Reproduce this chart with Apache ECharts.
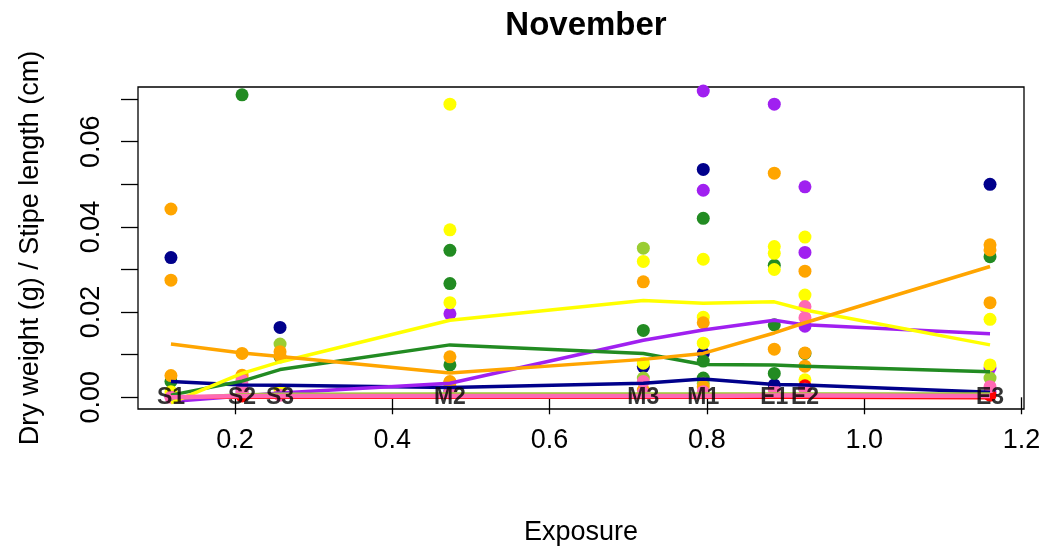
<!DOCTYPE html>
<html>
<head>
<meta charset="utf-8">
<script src="https://cdn.jsdelivr.net/npm/echarts@6/dist/echarts.min.js"></script>
<style>
html,body{margin:0;padding:0;background:#fff;}
#chart{width:1047px;height:552px;}
</style>
</head>
<body>
<div id="chart"></div>
<script>
// ---- data ----
var sites = ['S1','S2','S3','M2','M3','M1','E1','E2','E3'];
var siteX = [0.1186, 0.209, 0.2573, 0.4733, 0.7192, 0.7954, 0.8857, 0.9247, 1.160];
var xTicks = [0.2, 0.4, 0.6, 0.8, 1.0, 1.2];
var yTicks = [0, 0.01, 0.02, 0.03, 0.04, 0.05, 0.06, 0.07];
var yLabels = [0, 0.02, 0.04, 0.06];

// points: [site, value]
var navyPts = [['S1',0.0328],['S2',0.0020],['S3',0.0164],['M2',0.0015],['M3',0.0072],['M1',0.0535],['M1',0.0103],['E1',0.0029],['E2',0.0020],['E3',0.0500]];
var purplePts = [['S1',0.0002],['S2',0.0010],['M2',0.0196],['M1',0.0719],['M1',0.0486],['E1',0.0688],['E2',0.0494],['E2',0.0340],['E2',0.0167],['E3',0.0069],['E3',0.0013]];
var greenPts = [['S1',0.0037],['S2',0.0710],['S3',0.0095],['M2',0.0345],['M2',0.0267],['M2',0.0076],['M3',0.0157],['M1',0.0420],['M1',0.0085],['M1',0.0045],['E1',0.0310],['E1',0.0170],['E1',0.0056],['E2',0.0103],['E3',0.0330]];
var ygreenPts = [['S3',0.0125],['M2',0.0035],['M3',0.0350],['M3',0.0045],['M1',0.0033],['E3',0.0045]];
var yellowPts = [['S1',0.0013],['S2',0.0045],['S3',0.0017],['M2',0.0688],['M2',0.0393],['M2',0.0222],['M3',0.0319],['M3',0.0080],['M1',0.0324],['M1',0.0188],['M1',0.0127],['E1',0.0354],['E1',0.0338],['E1',0.0300],['E2',0.0376],['E2',0.0240],['E2',0.0041],['E3',0.0183],['E3',0.0076]];
var orangePts = [['S1',0.0442],['S1',0.0275],['S1',0.0051],['S2',0.0103],['S2',0.0052],['S3',0.0107],['S3',0.0097],['M2',0.0095],['M2',0.0037],['M2',0.0024],['M3',0.0271],['M3',0.0017],['M1',0.0175],['M1',0.0025],['E1',0.0526],['E1',0.0113],['E2',0.0296],['E2',0.0104],['E2',0.0073],['E3',0.0358],['E3',0.0346],['E3',0.0222]];
var redPts = [['S2',0.0003],['E2',0.0027],['E3',0.0005]];
var pinkPts = [['S1',0.0000],['S2',0.0040],['S2',0.0030],['S2',0.0015],['S3',0.0005],['M2',0.0010],['M3',0.0037],['M3',0.0010],['M1',0.0013],['E1',0.0017],['E2',0.0213],['E2',0.0187],['E2',0.0019],['E3',0.0025]];

// fitted lines: one value per site
var navyLine = [0.0037,0.0029,0.0028,0.0023,0.0033,0.0043,0.0030,0.0029,0.0012];
var purpleLine = [-0.0010,0.0003,0.0010,0.0033,0.0134,0.0158,0.0181,0.0170,0.0149];
var greenLine = [0.0005,0.0038,0.0065,0.0123,0.0103,0.0077,0.0076,0.0073,0.0060];
var ygreenLine = [-0.0003,0.0006,0.0007,0.0008,0.0008,0.0008,0.0008,0.0008,0.0008];
var yellowLine = [-0.0013,0.0056,0.0083,0.0181,0.0227,0.0221,0.0224,0.0205,0.0123];
var orangeLine = [0.0125,0.0104,0.0096,0.0057,0.0089,0.0103,0.0151,0.0175,0.0307];
var redLine = [0.0000,0.0000,0.0000,0.0000,0.0000,0.0000,0.0000,0.0000,-0.0001];
var pinkLine = [0.0000,0.0003,0.0003,0.0003,0.0003,0.0003,0.0004,0.0004,0.0003];

var groups = [
  {name:'darkblue', color:'#00008B', pts:navyPts, line:navyLine, w:3.5},
  {name:'purple', color:'#A020F0', pts:purplePts, line:purpleLine, w:3.5},
  {name:'forestgreen', color:'#228B22', pts:greenPts, line:greenLine, w:3.5},
  {name:'yellowgreen', color:'#9ACD32', pts:ygreenPts, line:ygreenLine, w:3.5},
  {name:'yellow', color:'#FFFF00', pts:yellowPts, line:yellowLine, w:3.5},
  {name:'orange', color:'#FFA500', pts:orangePts, line:orangeLine, w:3.5},
  {name:'red', color:'#FF0000', pts:redPts, line:redLine, w:3.5},
  {name:'hotpink', color:'#FF69B4', pts:pinkPts, line:pinkLine, w:4.5}
];

var FONT = '"Liberation Sans", Arial, Helvetica, sans-serif';
function sx(s){ return siteX[sites.indexOf(s)]; }

var series = [];
groups.forEach(function(g){
  series.push({
    type:'scatter', name:g.name+' pts', symbolSize:13, z:2,
    itemStyle:{color:g.color, opacity:1},
    data:g.pts.map(function(p){ return [sx(p[0]), p[1]]; })
  });
});
groups.forEach(function(g){
  series.push({
    type:'line', name:g.name+' fit', showSymbol:false, symbol:'none', z:3,
    lineStyle:{color:g.color, width:g.w},
    data:g.line.map(function(v,i){ return [siteX[i], v]; })
  });
});
series.push({
  type:'scatter', name:'sites', symbolSize:0, z:5,
  label:{show:true, position:'inside', formatter:function(p){ return sites[p.dataIndex]; },
         color:'#000', fontWeight:'bold', fontSize:23, fontFamily:FONT},
  data:siteX.map(function(x){ return [x, 0]; })
});

var chart = echarts.init(document.getElementById('chart'), null, {renderer:'canvas'});
chart.setOption({
  animation:false,
  backgroundColor:'#fff',
  title:{text:'November', left:581, top:4, textAlign:'center',
         textStyle:{fontSize:33, fontWeight:'bold', color:'#000', fontFamily:FONT}},
  grid:{left:138, right:23, top:87, bottom:143, show:true, borderColor:'#000', borderWidth:1.3, backgroundColor:'transparent'},
  xAxis:{
    type:'value', min:0.0767, max:1.2032,
    name:'Exposure', nameLocation:'middle', nameGap:110,
    nameTextStyle:{fontSize:27, color:'#000', fontFamily:FONT},
    axisLine:{show:false},
    axisTick:{show:true, length:17, inside:false, customValues:xTicks, lineStyle:{color:'#000', width:1.3}},
    axisLabel:{customValues:xTicks, fontSize:27, color:'#000', fontFamily:FONT, margin:18,
               formatter:function(v){ return v.toFixed(1); }},
    splitLine:{show:false}
  },
  yAxis:{
    type:'value', min:-0.00275, max:0.07284,
    name:'Dry weight (g) / Stipe length (cm)', nameLocation:'middle', nameGap:94,
    nameTextStyle:{fontSize:27, color:'#000', fontFamily:FONT},
    axisLine:{show:false},
    axisTick:{show:true, length:17, inside:false, customValues:yTicks, lineStyle:{color:'#000', width:1.3}},
    axisLabel:{customValues:yLabels, rotate:90, fontSize:27, color:'#000', fontFamily:FONT, margin:33,
               formatter:function(v){ return v.toFixed(2); }},
    splitLine:{show:false}
  },
  series:series
});
</script>
</body>
</html>
